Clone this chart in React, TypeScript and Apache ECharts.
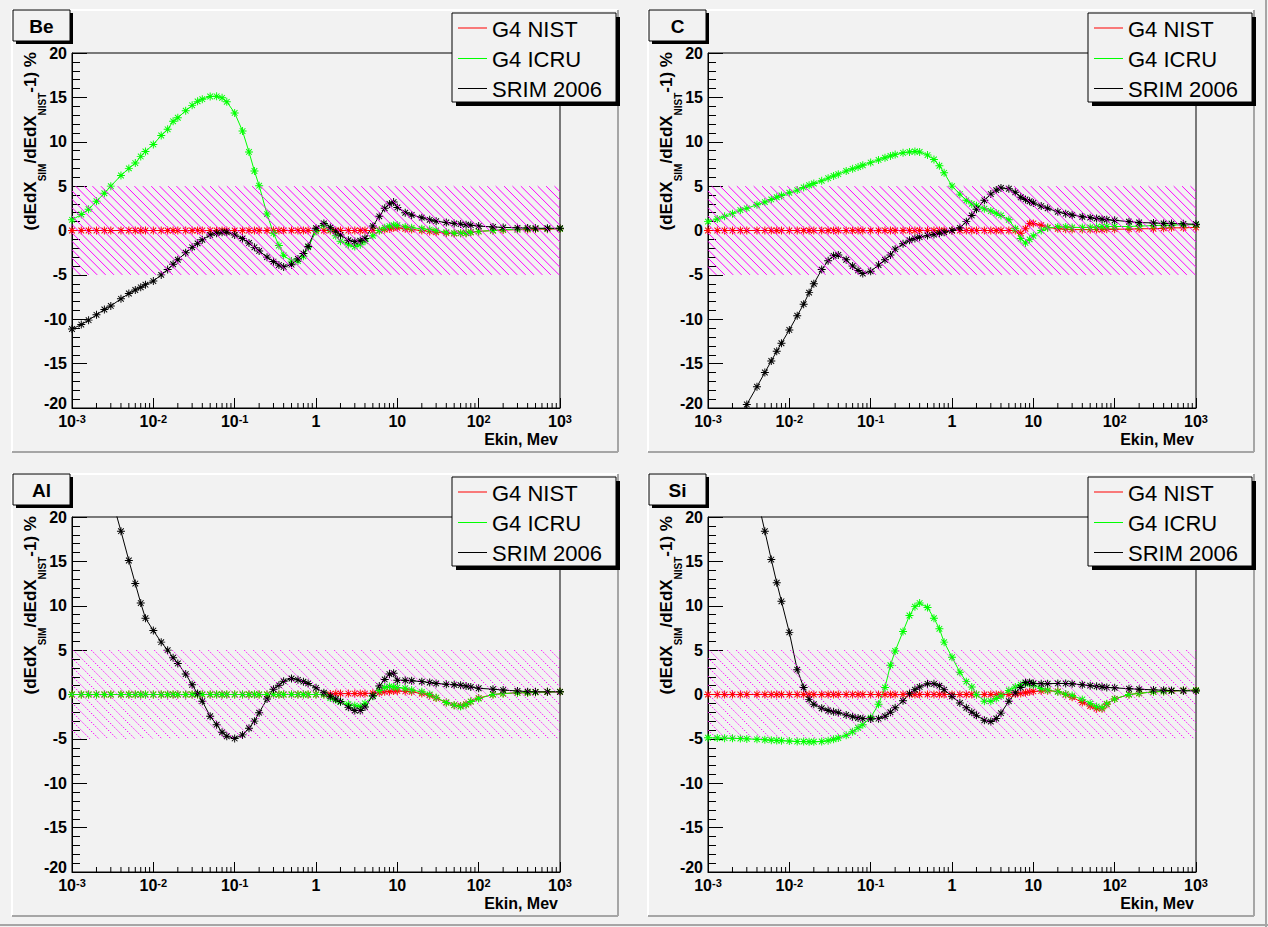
import React, { useEffect, useRef } from 'react';
import * as echarts from 'echarts';

// Kinetic energy grid (MeV) shared by all curves
const EKIN = [
  0.001, 0.0013, 0.0016, 0.002, 0.0025, 0.003, 0.004, 0.005, 0.006, 0.007,
  0.008, 0.01, 0.0125, 0.015, 0.0175, 0.02, 0.025, 0.03, 0.035, 0.04,
  0.05, 0.06, 0.07, 0.08, 0.1, 0.125, 0.15, 0.175, 0.2, 0.25,
  0.3, 0.35, 0.4, 0.5, 0.6, 0.7, 0.8, 1, 1.25, 1.5,
  1.75, 2, 2.5, 3, 3.5, 4, 5, 6, 7, 8,
  9, 10, 12.5, 15, 20, 25, 30, 40, 50, 60,
  70, 80, 100, 150, 200, 300, 400, 500, 700, 1000,
];

// ---- Be ----
const BE_NIST = [
  0, 0, 0, 0, 0, 0, 0, 0, 0, 0,
  0, 0, 0, 0, 0, 0, 0, 0, 0, 0,
  0, 0, 0, 0, 0, 0, 0, 0, 0, 0,
  0, 0, 0, 0, 0, 0, 0, 0, 0, 0,
  0, 0, 0, 0, 0, 0, 0, 0, 0.1, 0.2,
  0.3, 0.3, 0.2, 0.1, 0.0, -0.1, -0.2, -0.3, -0.35, -0.3,
  -0.3, -0.2, -0.1, 0.0, 0.05, 0.1, 0.1, 0.15, 0.15, 0.2,
];
const BE_ICRU = [
  1.2, 1.8, 2.4, 3.3, 4.2, 5.0, 6.2, 7.0, 7.6, 8.35,
  8.9, 9.7, 10.7, 11.4, 12.3, 12.7, 13.5, 14.1, 14.55, 14.8,
  15.1, 15.12, 14.95, 14.5, 13.25, 11.2, 8.85, 6.7, 5.05, 1.85,
  -0.3, -1.7, -2.8, -3.45, -3.45, -2.9, -1.9, -0.1, 0.6, 0.1,
  -0.6, -1.2, -1.6, -1.8, -1.6, -1.2, -0.6, 0.0, 0.3, 0.5,
  0.6, 0.6, 0.4, 0.3, 0.2, 0.1, 0.0, -0.2, -0.3, -0.3,
  -0.3, -0.2, -0.1, 0.0, 0.1, 0.1, 0.2, 0.2, 0.2, 0.2,
];
const BE_SRIM = [
  -11.1, -10.6, -10.1, -9.5, -8.9, -8.5, -7.7, -7.1, -6.7, -6.4,
  -6.1, -5.7, -5.0, -4.4, -3.8, -3.3, -2.5, -1.9, -1.45, -1.05,
  -0.5, -0.3, -0.2, -0.2, -0.5, -0.9, -1.4, -1.9, -2.3, -3.0,
  -3.5, -3.9, -4.1, -3.85, -3.2, -2.6, -1.8, 0.25, 0.8, 0.35,
  -0.1, -0.5, -1.1, -1.25, -1.15, -0.9, 0.5, 1.6, 2.5, 3.0,
  3.2, 2.6, 2.0, 1.75, 1.45, 1.2, 1.05, 0.9, 0.8, 0.72,
  0.65, 0.6, 0.5, 0.4, 0.35, 0.3, 0.27, 0.25, 0.25, 0.25,
];

// ---- C ----
const C_NIST = [
  0, 0, 0, 0, 0, 0, 0, 0, 0, 0,
  0, 0, 0, 0, 0, 0, 0, 0, 0, 0,
  0, 0, 0, 0, 0, 0, 0, 0, 0, 0,
  0, 0, 0, 0, 0, 0, 0, 0, 0, 0,
  0, 0, 0, 0, 0, 0, 0, 0, -0.3, 0.2,
  0.8, 0.8, 0.6, 0.35, 0.2, 0.15, 0.1, 0.1, 0.1, 0.1,
  0.1, 0.15, 0.15, 0.15, 0.2, 0.2, 0.25, 0.3, 0.3, 0.35,
];
const C_ICRU = [
  1.0, 1.3, 1.6, 1.9, 2.3, 2.5, 2.9, 3.2, 3.5, 3.75,
  3.95, 4.25, 4.55, 4.85, 5.1, 5.3, 5.6, 5.9, 6.15, 6.35,
  6.7, 6.95, 7.15, 7.35, 7.65, 7.95, 8.2, 8.4, 8.55, 8.75,
  8.85, 8.9, 8.85, 8.5, 8.0, 7.3, 6.5, 5.0, 4.1, 3.4,
  3.0, 2.8, 2.45, 2.2, 1.95, 1.7, 1.2, 0.2, -0.9, -1.4,
  -1.0, -0.6, 0.0, 0.3, 0.4, 0.4, 0.35, 0.35, 0.35, 0.4,
  0.45, 0.45, 0.45, 0.45, 0.5, 0.55, 0.6, 0.6, 0.65, 0.65,
];
const C_SRIM = [
  -27.4, -25.6, -24.1, -22.5, -20.9, -19.6, -17.6, -16.0, -14.7, -13.6,
  -12.7, -11.2, -9.6, -8.3, -7.0, -6.0, -4.4, -3.4, -2.85, -2.75,
  -3.3, -4.0, -4.5, -4.85, -4.6, -3.9, -3.3, -2.75, -2.1, -1.5,
  -1.1, -0.9, -0.75, -0.55, -0.45, -0.3, -0.2, 0.0, 0.3, 1.0,
  1.7, 2.4, 3.4, 4.1, 4.55, 4.8, 4.7, 4.3, 3.75, 3.5,
  3.3, 3.1, 2.75, 2.5, 2.1, 1.9, 1.75, 1.55, 1.45, 1.35,
  1.28, 1.22, 1.15, 1.0, 0.9, 0.85, 0.8, 0.78, 0.75, 0.7,
];

// ---- Al ----
const AL_NIST = [
  0, 0, 0, 0, 0, 0, 0, 0, 0, 0,
  0, 0, 0, 0, 0, 0, 0, 0, 0, 0,
  0, 0, 0, 0, 0, 0, 0, 0, 0, 0,
  0, 0, 0, 0, 0, 0, 0, 0, 0.0, 0.05,
  0.1, 0.1, 0.1, 0.1, 0.1, 0.1, 0.15, 0.2, 0.3, 0.35,
  0.4, 0.4, 0.35, 0.3, 0.1, -0.1, -0.4, -0.9, -1.2, -1.3,
  -1.1, -0.8, -0.4, 0.0, 0.1, 0.2, 0.2, 0.25, 0.3, 0.3,
];
const AL_ICRU = [
  0, 0, 0, 0, 0, 0, 0, 0, 0, 0,
  0, 0, 0, 0, 0, 0, 0, 0, 0, 0,
  0, 0, 0, 0, 0, 0, 0, 0, 0, 0,
  0, 0, 0, 0, 0, 0, 0, 0, 0.0, -0.4,
  -0.6, -0.85, -1.1, -1.25, -1.35, -1.0, -0.2, 0.45, 0.8, 0.9,
  0.85, 0.8, 0.7, 0.5, 0.3, 0.0, -0.35, -0.9, -1.2, -1.35,
  -1.15, -0.8, -0.45, 0.0, 0.1, 0.2, 0.2, 0.25, 0.3, 0.3,
];
const AL_SRIM = [
  null, null, null, null, null, 22.5, 18.4, 15.1, 12.5, 10.3,
  8.6, 7.2, 5.9, 5.0, 4.15, 3.5, 2.3, 1.1, 0.1, -0.75,
  -2.45, -3.4, -4.25, -4.7, -4.95, -4.55, -3.8, -3.0, -2.05, -0.5,
  0.6, 1.05, 1.5, 1.8, 1.65, 1.45, 1.25, 0.75, 0.2, -0.2,
  -0.5, -0.8, -1.45, -1.8, -1.8, -1.4, -0.15, 0.95, 1.7, 2.3,
  2.4, 1.6, 1.6, 1.55, 1.45, 1.35, 1.25, 1.15, 1.1, 1.05,
  0.95, 0.85, 0.7, 0.6, 0.5, 0.4, 0.32, 0.3, 0.3, 0.3,
];

// ---- Si ----
const SI_NIST = [
  0, 0, 0, 0, 0, 0, 0, 0, 0, 0,
  0, 0, 0, 0, 0, 0, 0, 0, 0, 0,
  0, 0, 0, 0, 0, 0, 0, 0, 0, 0,
  0, 0, 0, 0, 0, 0, 0, 0, 0, 0,
  0, 0, 0, 0, 0, 0, 0, 0.05, 0.1, 0.2,
  0.3, 0.35, 0.4, 0.43, 0.35, 0.0, -0.3, -0.9, -1.3, -1.6,
  -1.6, -1.1, -0.5, 0.0, 0.13, 0.3, 0.35, 0.4, 0.45, 0.5,
];
const SI_ICRU = [
  -4.87, -4.9, -4.92, -4.94, -4.97, -5.0, -5.05, -5.1, -5.15, -5.18,
  -5.2, -5.25, -5.3, -5.3, -5.32, -5.32, -5.3, -5.2, -5.05, -4.9,
  -4.6, -4.2, -3.75, -3.4, -2.6, -1.1, 0.8, 3.3, 4.9, 7.1,
  8.9, 9.9, 10.3, 9.8, 8.6, 7.4, 5.9, 4.2, 2.5, 1.45,
  0.85, 0.0, -0.75, -0.75, -0.45, -0.15, 0.45, 0.85, 1.1, 1.2,
  1.25, 1.05, 0.68, 0.5, 0.3, 0.05, -0.12, -0.55, -1.0, -1.35,
  -1.5, -1.05, -0.5, 0.0, 0.13, 0.3, 0.35, 0.4, 0.45, 0.5,
];
const SI_SRIM = [
  null, null, null, null, null, null, 22.3, 18.4, 15.2, 12.6,
  10.5, 7.0, 2.8, 0.8, -0.55, -1.1, -1.55, -1.8, -1.95, -2.05,
  -2.3, -2.5, -2.65, -2.72, -2.76, -2.72, -2.45, -2.0, -1.5, -0.7,
  0.1, 0.55, 0.85, 1.2, 1.2, 1.0, 0.55, -0.2, -0.95, -1.5,
  -2.0, -2.35, -2.9, -3.05, -2.7, -2.1, -0.75, 0.2, 0.8, 1.35,
  1.35, 1.25, 1.2, 1.22, 1.25, 1.25, 1.2, 1.1, 1.0, 0.92,
  0.86, 0.8, 0.75, 0.65, 0.6, 0.52, 0.48, 0.45, 0.42, 0.4,
];

const SERIES_NAMES = ['G4 NIST', 'G4 ICRU', 'SRIM 2006'];
const SERIES_COLORS = ['#ff0000', '#00ff00', '#000000'];
const PANEL_LABELS = ['Be', 'C', 'Al', 'Si'];
const X_RANGE = [0.001, 1000];
const Y_RANGE = [-20, 20];
const BAND = [-5, 5];
const X_AXIS_TITLE = 'Ekin, Mev';
const Y_AXIS_TITLE = '(dEdX{s|SIM}/dEdX{s|NIST}-1) %';

const PANEL_DATA = [
  [BE_NIST, BE_ICRU, BE_SRIM],
  [C_NIST, C_ICRU, C_SRIM],
  [AL_NIST, AL_ICRU, AL_SRIM],
  [SI_NIST, SI_ICRU, SI_SRIM],
];

const FONT = '"Liberation Sans", Arial, Helvetica, sans-serif';
const BG = '#f2f2f2';

const PAD_X = [12, 648];
const PAD_Y = [10, 474];
const PAD_W = 606;
const PAD_H = 442;

function starSymbol() {
  const L = 5;
  const w = 0.6;
  let d = '';
  [0, 45, 90, 135].forEach((deg) => {
    const t = (deg * Math.PI) / 180;
    const c = Math.cos(t);
    const s = Math.sin(t);
    const nx = -s * w;
    const ny = c * w;
    const pts = [
      [L * c + nx, L * s + ny],
      [L * c - nx, L * s - ny],
      [-L * c - nx, -L * s - ny],
      [-L * c + nx, -L * s + ny],
    ];
    d += 'M' + pts.map((p) => p[0].toFixed(3) + ' ' + p[1].toFixed(3)).join(' L') + ' Z ';
  });
  return 'path://' + d;
}

function xLabel(v: number) {
  const e = Math.round(Math.log10(v));
  if (e === 0) return '{b|1}';
  if (e === 1) return '{b|10}';
  return '{b|10}{s|' + e + '}';
}

function yLabel(v: number) {
  if (v === Y_RANGE[0]) return '{lo|' + v + '}';
  return String(v);
}

function bandRenderer(spacing: number, dashed: boolean) {
  return (params: any, api: any) => {
    const a = api.coord([X_RANGE[0], BAND[1]]);
    const b = api.coord([X_RANGE[1], BAND[0]]);
    const x0 = a[0];
    const y0 = a[1];
    const w = b[0] - a[0];
    const h = b[1] - a[1];
    const children: any[] = [];
    for (let s = -h; s < w; s += spacing) {
      const t0 = Math.max(0, -s);
      const t1 = Math.min(h, w - s);
      if (t1 > t0) {
        children.push({
          type: 'line',
          shape: { x1: x0 + s + t0, y1: y0 + t0, x2: x0 + s + t1, y2: y0 + t1 },
          style: { stroke: '#ff00ff', lineWidth: 1, lineDash: dashed ? [1.5, 1.5] : null },
        });
      }
    }
    return { type: 'group', children };
  };
}

function minorTickRenderer(params: any, api: any) {
  const children: any[] = [];
  for (let e = -3; e < 3; e++) {
    for (let k = 2; k <= 9; k++) {
      const p = api.coord([k * Math.pow(10, e), Y_RANGE[0]]);
      children.push({
        type: 'line',
        shape: { x1: p[0], y1: p[1], x2: p[0], y2: p[1] - 5 },
        style: { stroke: '#000', lineWidth: 1 },
      });
    }
  }
  return { type: 'group', children };
}

function buildOption() {
  const grids: any[] = [];
  const xAxes: any[] = [];
  const yAxes: any[] = [];
  const series: any[] = [];
  const graphics: any[] = [];
  const star = starSymbol();

  // outer canvas border
  graphics.push({ type: 'line', z: 50, shape: { x1: 0, y1: 925, x2: 1268, y2: 925 }, style: { stroke: '#a6a6a6', lineWidth: 2 } });
  graphics.push({ type: 'line', z: 50, shape: { x1: 1266, y1: 0, x2: 1266, y2: 927 }, style: { stroke: '#a6a6a6', lineWidth: 2 } });

  PANEL_LABELS.forEach((label, i) => {
    const col = i % 2;
    const row = Math.floor(i / 2);
    const px = PAD_X[col];
    const py = PAD_Y[row];
    const left = px + 60;
    const top = py + 43;

    grids.push({ left, top, width: 488, height: 355, show: true, borderColor: '#000', borderWidth: 1, backgroundColor: 'transparent' });

    xAxes.push({
      type: 'log',
      logBase: 10,
      gridIndex: i,
      min: X_RANGE[0],
      max: X_RANGE[1],
      axisLine: { onZero: false, lineStyle: { color: '#000', width: 1 } },
      axisTick: { inside: true, length: 10, lineStyle: { color: '#000', width: 1 } },
      axisLabel: {
        margin: 5,
        color: '#000',
        fontFamily: FONT,
        fontSize: 16,
        fontWeight: 'bold',
        showMinLabel: true,
        showMaxLabel: true,
        formatter: xLabel,
        rich: {
          b: { fontFamily: FONT, fontSize: 16, fontWeight: 'bold', color: '#000', lineHeight: 16 },
          s: { fontFamily: FONT, fontSize: 11, fontWeight: 'bold', color: '#000', lineHeight: 9, verticalAlign: 'top' },
        },
      },
      splitLine: { show: false },
    });

    yAxes.push({
      type: 'value',
      gridIndex: i,
      min: Y_RANGE[0],
      max: Y_RANGE[1],
      interval: 5,
      axisLine: { show: true, onZero: false, lineStyle: { color: '#000', width: 1 } },
      axisTick: { show: true, inside: true, length: 15, lineStyle: { color: '#000', width: 1 } },
      minorTick: { show: true, splitNumber: 5, length: 8, lineStyle: { color: '#000', width: 1 } },
      axisLabel: {
        color: '#000', fontFamily: FONT, fontSize: 16, fontWeight: 'bold', margin: 5,
        formatter: yLabel,
        rich: {
          lo: { fontFamily: FONT, fontSize: 16, fontWeight: 'bold', color: '#000', padding: [0, 0, 9, 0] },
        },
      },
      splitLine: { show: false },
      minorSplitLine: { show: false },
    });

    PANEL_DATA[i].forEach((vals, k) => {
      const data: any[] = [];
      EKIN.forEach((e, j) => {
        if (vals[j] !== null && vals[j] !== undefined) data.push([e, vals[j]]);
      });
      series.push({
        type: 'line',
        name: SERIES_NAMES[k],
        xAxisIndex: i,
        yAxisIndex: i,
        data,
        z: 2,
        clip: true,
        symbol: star,
        symbolSize: 8,
        showSymbol: true,
        showAllSymbol: true,
        itemStyle: { color: SERIES_COLORS[k] },
        lineStyle: { color: SERIES_COLORS[k], width: 1 },
        emphasis: { disabled: true },
        silent: true,
      });
    });

    series.push({
      type: 'custom',
      xAxisIndex: i,
      yAxisIndex: i,
      data: [[1, 0]],
      encode: { x: 0, y: 1 },
      z: 3,
      silent: true,
      renderItem: bandRenderer(row === 0 ? 8.4 : 9, row === 1),
    });
    series.push({
      type: 'custom',
      xAxisIndex: i,
      yAxisIndex: i,
      data: [[1, 0]],
      encode: { x: 0, y: 1 },
      z: 4,
      silent: true,
      renderItem: minorTickRenderer,
    });

    // pad bevel
    graphics.push({ type: 'line', z: 50, shape: { x1: px, y1: py, x2: px + PAD_W, y2: py }, style: { stroke: '#ffffff', lineWidth: 2 } });
    graphics.push({ type: 'line', z: 50, shape: { x1: px, y1: py, x2: px, y2: py + PAD_H }, style: { stroke: '#ffffff', lineWidth: 2 } });
    graphics.push({ type: 'line', z: 50, shape: { x1: px, y1: py + PAD_H, x2: px + PAD_W, y2: py + PAD_H }, style: { stroke: '#a6a6a6', lineWidth: 2 } });
    graphics.push({ type: 'line', z: 50, shape: { x1: px + PAD_W, y1: py, x2: px + PAD_W, y2: py + PAD_H }, style: { stroke: '#a6a6a6', lineWidth: 2 } });

    // panel label box
    graphics.push({ type: 'rect', z: 50, shape: { x: px + 4, y: py + 3, width: 57, height: 31 }, style: { fill: '#000' } });
    graphics.push({ type: 'rect', z: 51, shape: { x: px + 1, y: py, width: 57, height: 31 }, style: { fill: BG, stroke: '#000', lineWidth: 1 } });
    graphics.push({
      type: 'text', z: 52, x: px + 29.5, y: py + 16,
      style: { text: label, font: 'bold 19px ' + FONT, fill: '#000', align: 'center', verticalAlign: 'middle', textAlign: 'center', textVerticalAlign: 'middle' },
    });

    // legend box
    graphics.push({ type: 'rect', z: 50, shape: { x: px + 444, y: py + 7, width: 164, height: 89 }, style: { fill: '#000' } });
    graphics.push({ type: 'rect', z: 51, shape: { x: px + 440, y: py + 3, width: 164, height: 89 }, style: { fill: BG, stroke: '#000', lineWidth: 1 } });
    const rowsY = [py + 18, py + 48.5, py + 78.5];
    SERIES_NAMES.forEach((nm, k) => {
      graphics.push({ type: 'line', z: 52, shape: { x1: px + 446, y1: rowsY[k], x2: px + 475, y2: rowsY[k] }, style: { stroke: SERIES_COLORS[k], lineWidth: 1 } });
      graphics.push({
        type: 'text', z: 52, x: px + 480, y: rowsY[k] + 1,
        style: { text: nm, font: '22px ' + FONT, fill: '#000', align: 'left', verticalAlign: 'middle', textAlign: 'left', textVerticalAlign: 'middle' },
      });
    });

    // axis titles
    graphics.push({
      type: 'text', z: 52, x: left + 486, y: top + 386,
      style: { text: X_AXIS_TITLE, font: 'bold 16px ' + FONT, fill: '#000', align: 'right', verticalAlign: 'middle', textAlign: 'right', textVerticalAlign: 'middle' },
    });
    graphics.push({
      type: 'text', z: 52, x: px + 18.5, y: py + 42, rotation: Math.PI / 2,
      style: {
        text: Y_AXIS_TITLE,
        font: 'bold 17px ' + FONT,
        fontSize: 17,
        fontWeight: 'bold',
        fontFamily: FONT,
        lineHeight: 34,
        fill: '#000',
        align: 'right',
        verticalAlign: 'middle',
        textAlign: 'right',
        textVerticalAlign: 'middle',
        rich: {
          s: { fontSize: 10, fontWeight: 'bold', fontFamily: FONT, fill: '#000', lineHeight: 10, verticalAlign: 'bottom' },
        },
      },
    });
  });

  return {
    animation: false,
    backgroundColor: BG,
    grid: grids,
    xAxis: xAxes,
    yAxis: yAxes,
    series,
    graphic: { elements: graphics },
  };
}

export default function App() {
  const ref = useRef<HTMLDivElement>(null);
  useEffect(() => {
    if (!ref.current) return;
    const chart = echarts.init(ref.current, null, { renderer: 'svg', width: 1268, height: 927 });
    chart.setOption(buildOption() as any);
    return () => chart.dispose();
  }, []);
  return (
    <div
      ref={ref}
      style={{ position: 'fixed', left: 0, top: 0, width: 1268, height: 927, background: BG }}
    />
  );
}
